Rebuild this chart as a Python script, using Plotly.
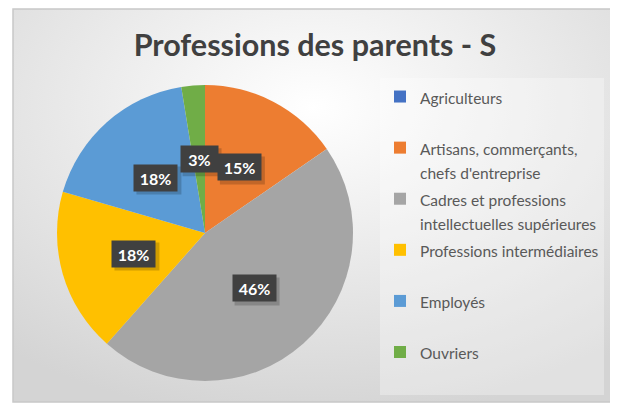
import math
import base64
import plotly.graph_objects as go

# browser window 618x403; page body has an 8px margin
OFF = 8
FW, FH = 610, 395

# ---- data ----
categories = [
    "Agriculteurs",
    "Artisans, commerçants,<br>chefs d'entreprise",
    "Cadres et professions<br>intellectuelles supérieures",
    "Professions intermédiaires",
    "Employés",
    "Ouvriers",
]
counts = [0, 6, 18, 7, 7, 1]
colors = ["#4472C4", "#ED7D31", "#A5A5A5", "#FFC000", "#5B9BD5", "#70AD47"]
title_text = "Professions des parents - S"

# legend labels: 2 lines each, so every entry has the same height
legend_labels = []
for c in categories:
    n = c.count("<br>") + 1
    lab = c + "<br> " * (2 - n)
    legend_labels.append(f'<span style="font-size:15.5px">{lab}</span>')

def px(x):
    return (x - OFF) / FW

def py(y):
    return 1 - (y - OFF) / FH

dom_x = [px(57), px(353)]
dom_y = [py(381), py(85)]

fig = go.Figure()
fig.add_trace(go.Pie(
    labels=legend_labels,
    values=counts,
    sort=False,
    direction="clockwise",
    rotation=0,
    marker=dict(colors=colors, line=dict(width=0)),
    textinfo="none",
    hoverinfo="label+percent",
    domain=dict(x=dom_x, y=dom_y),
))

# label boxes placed at half radius on each slice's mid-angle
cx_px = (dom_x[0] + dom_x[1]) / 2 * FW
cy_px = (1 - (dom_y[0] + dom_y[1]) / 2) * FH
R = min((dom_x[1] - dom_x[0]) * FW, (dom_y[1] - dom_y[0]) * FH) / 2
total = sum(counts)
cum = 0
label_items = []
for v in counts:
    if v > 0:
        mid = (cum + v / 2) / total * 2 * math.pi
        lx = cx_px + 0.5 * R * math.sin(mid)
        ly = cy_px - 0.5 * R * math.cos(mid)
        label_items.append((lx, ly, f"{v / total * 100:.0f}%"))
    cum += v

annotations = []
shadow_shapes = []
BH = 20
for lx, ly, txt in reversed(label_items):
    bw = 6 * len(txt) + 19
    tw, th = bw + 8, BH + 8
    sx, sy = lx + 3, ly + 3
    shadow_shapes.append(dict(
        type="rect", xref="paper", yref="paper", layer="above",
        x0=(sx - tw / 2) / FW, x1=(sx + tw / 2) / FW,
        y0=1 - (sy + th / 2) / FH, y1=1 - (sy - th / 2) / FH,
        fillcolor="rgba(0,0,0,0.18)", line=dict(width=0),
    ))
    annotations.append(dict(
        x=lx / FW, y=1 - ly / FH, xref="paper", yref="paper",
        showarrow=False, xanchor="center", yanchor="middle",
        width=bw, height=BH, borderpad=3,
        text=f"<b>{txt}</b>",
        font=dict(family="Lato", size=16, color="white"),
        bgcolor="#404040",
    ))

# radial gradient background as an svg image
svg = '''<svg xmlns="http://www.w3.org/2000/svg" width="600" height="393" viewBox="0 0 600 393">
<defs><radialGradient id="g" cx="50%" cy="25%" r="80%">
<stop offset="0%" stop-color="#ffffff"/>
<stop offset="100%" stop-color="#d4d4d4"/>
</radialGradient></defs>
<rect width="600" height="393" fill="url(#g)"/></svg>'''
src = "data:image/svg+xml;base64," + base64.b64encode(svg.encode()).decode()

fig.update_layout(
    width=FW, height=FH,
    margin=dict(l=0, r=0, t=0, b=0),
    paper_bgcolor="white",
    title=dict(
        text=f"<b>{title_text}</b>",
        x=px(315), xanchor="center", y=py(45), yanchor="middle",
        font=dict(family="Lato", size=30.5, color="#404040"),
    ),
    legend=dict(
        x=px(380), y=py(78), xanchor="left", yanchor="top",
        bgcolor="rgba(255,255,255,0.3)",
        font=dict(family="Lato", size=18.5, color="#595959"),
        valign="top",
        traceorder="normal",
    ),
    images=[dict(
        source=src, xref="paper", yref="paper",
        x=px(13), y=py(9), sizex=600 / FW, sizey=393 / FH,
        xanchor="left", yanchor="top", sizing="stretch", layer="below",
    )],
    shapes=[dict(
        type="rect", xref="paper", yref="paper",
        x0=px(13), x1=px(613), y0=py(402), y1=py(9),
        line=dict(color="#c8c8c8", width=1.5),
    )] + shadow_shapes,
    annotations=annotations,
)

fig.write_html("out.html")
